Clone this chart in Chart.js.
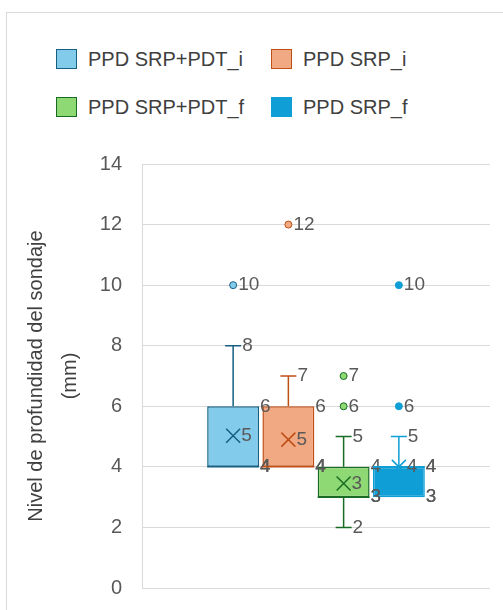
<!DOCTYPE html>
<html>
<head>
<meta charset="utf-8">
<script src="https://cdn.jsdelivr.net/npm/chart.js@4"></script>
<style>
    html, body { margin: 0; padding: 0; background: #fff; overflow: hidden; }
    body { width: 503px; height: 610px; position: relative; font-family: 'Liberation Sans', Arial, sans-serif; }
    #frame { position: absolute; left: 6px; top: 12px; width: 700px; height: 800px; border: 1px solid #d9d9d9; box-sizing: border-box; }
    #chart { position: absolute; left: 0; top: 0; }
    .legend-item { position: absolute; font-size: 20px; color: #404040; line-height: 20px; white-space: nowrap; }
    .legend-item .swatch { position: absolute; left: 0; top: 0; width: 21px; height: 20px; box-sizing: border-box; border: 1.5px solid; }
    .legend-item .label { position: absolute; left: 32px; top: 0; }
</style>
</head>
<body>
<div id="frame"></div>
<div id="legend"></div>
<!-- canvas runs a little past the window bottom, like the cropped original -->
<canvas id="chart" width="503" height="620"></canvas>
<script>
// Box plot data (mm)
const seriesNames = ['PPD SRP+PDT_i', 'PPD SRP_i', 'PPD SRP+PDT_f', 'PPD SRP_f'];
const minValues = [4, 4, 2, 3];
const q1Values = [4, 4, 3, 3];
const medianValues = [4, 4, 3, 4];
const q3Values = [6, 6, 4, 4];
const maxValues = [8, 7, 5, 5];
const meanValues = [5.03, 4.9, 3.45, 4.0];
const outlierValues = [[10], [12], [6, 7], [6, 10]];
const yTicks = [0, 2, 4, 6, 8, 10, 12, 14];

const fillColors = ['#83CBEB', '#F1A983', '#8ED973', '#0F9ED5'];
const lineColors = ['#156082', '#C04F15', '#196B24', '#0F9ED5'];

// HTML legend, two columns
const legendPos = [[56, 49], [271, 49], [56, 97], [271, 97]];
const legendEl = document.getElementById('legend');
seriesNames.forEach((name, i) => {
    const item = document.createElement('div');
    item.className = 'legend-item';
    item.style.left = legendPos[i][0] + 'px';
    item.style.top = legendPos[i][1] + 'px';
    item.innerHTML = '<span class="swatch" style="background:' + fillColors[i] + ';border-color:' + lineColors[i] + '"></span>' +
        '<span class="label">' + name + '</span>';
    legendEl.appendChild(item);
});

const labelFont = '19px "Liberation Sans", Arial, sans-serif';
const labelColor = '#595959';

// Draws whiskers, medians, means, outliers and the data labels on top of the bars
const boxPlotPlugin = {
    id: 'boxPlotExtras',
    afterDatasetsDraw(chart) {
        const ctx = chart.ctx;
        const y = chart.scales.y;
        ctx.save();
        chart.data.datasets.forEach((ds, i) => {
            const bar = chart.getDatasetMeta(i).data[0];
            const cx = bar.x;
            const half = bar.width / 2;
            const right = cx + half;
            const cap = 8;
            const line = lineColors[i];
            ctx.strokeStyle = line;
            ctx.lineWidth = 1.5;

            // whiskers
            const whisker = (from, to) => {
                if (from === to) return;
                ctx.beginPath();
                ctx.moveTo(cx, y.getPixelForValue(from));
                ctx.lineTo(cx, y.getPixelForValue(to));
                ctx.moveTo(cx - cap, y.getPixelForValue(to));
                ctx.lineTo(cx + cap, y.getPixelForValue(to));
                ctx.stroke();
            };
            whisker(q3Values[i], maxValues[i]);
            whisker(q1Values[i], minValues[i]);

            // median
            const my = y.getPixelForValue(medianValues[i]);
            ctx.beginPath();
            ctx.moveTo(cx - half, my);
            ctx.lineTo(cx + half, my);
            ctx.stroke();

            // mean marker (X)
            const mx = y.getPixelForValue(meanValues[i]);
            const s = 7;
            ctx.beginPath();
            ctx.moveTo(cx - s, mx - s);
            ctx.lineTo(cx + s, mx + s);
            ctx.moveTo(cx - s, mx + s);
            ctx.lineTo(cx + s, mx - s);
            ctx.stroke();

            // outliers
            outlierValues[i].forEach(v => {
                ctx.beginPath();
                ctx.arc(cx, y.getPixelForValue(v), 3.5, 0, Math.PI * 2);
                ctx.fillStyle = fillColors[i];
                ctx.fill();
                ctx.lineWidth = 1;
                ctx.stroke();
            });

            // labels
            ctx.font = labelFont;
            ctx.fillStyle = labelColor;
            ctx.textAlign = 'left';
            ctx.textBaseline = 'middle';
            const txt = (v, x) => ctx.fillText(String(Math.round(v)), x, y.getPixelForValue(v));
            txt(q3Values[i], right + 1);
            txt(q1Values[i], right + 1);
            txt(medianValues[i], right + 1);
            txt(maxValues[i], maxValues[i] === q3Values[i] ? right + 1 : cx + cap + 1);
            txt(minValues[i], minValues[i] === q1Values[i] ? right + 1 : cx + cap + 1);
            ctx.fillText(String(Math.round(meanValues[i])), cx + s + 1, mx);
            outlierValues[i].forEach(v => txt(v, cx + 5));
        });
        ctx.restore();
    }
};

const ctx = document.getElementById('chart').getContext('2d');
const chart = new Chart(ctx, {
    type: 'bar',
    data: {
        labels: [''],
        datasets: seriesNames.map((name, i) => ({
            label: name,
            data: [[q1Values[i], q3Values[i]]],
            backgroundColor: fillColors[i],
            borderColor: lineColors[i],
            borderWidth: 1.5,
            borderSkipped: false
        }))
    },
    options: {
        responsive: false,
        animation: false,
        devicePixelRatio: 1,
        categoryPercentage: 0.635,
        barPercentage: 0.94,
        layout: { padding: { top: 164, right: 13, bottom: 0, left: 0 } },
        plugins: {
            legend: { display: false },
            tooltip: { enabled: false }
        },
        scales: {
            x: { display: false },
            y: {
                min: 0,
                max: 14,
                afterBuildTicks: (scale) => { scale.ticks = yTicks.map(v => ({ value: v })); },
                afterFit: (scale) => { scale.width = 142; },
                grid: { color: '#d9d9d9', lineWidth: 1, drawTicks: false },
                border: { display: true, color: '#d9d9d9', width: 1 },
                ticks: {
                    padding: 20,
                    color: '#595959',
                    font: { family: '"Liberation Sans", Arial, sans-serif', size: 20 }
                },
                title: {
                    display: true,
                    text: ['Nivel de profundidad del sondaje', '(mm)'],
                    color: '#404040',
                    font: { family: '"Liberation Sans", Arial, sans-serif', size: 20, lineHeight: 1.7 },
                    padding: { top: 19, bottom: 0 }
                }
            }
        }
    },
    plugins: [boxPlotPlugin]
});
</script>
</body>
</html>
